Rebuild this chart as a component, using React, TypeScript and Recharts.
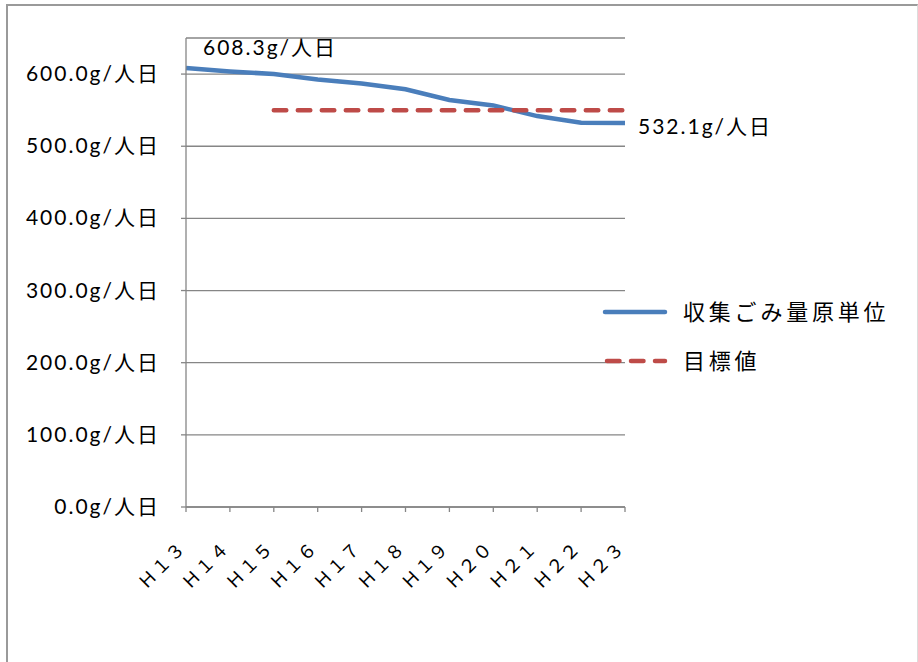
import { LineChart, Line, XAxis, YAxis, CartesianGrid, Legend, LabelList } from 'recharts'

const categories = ['Ｈ１３', 'Ｈ１４', 'Ｈ１５', 'Ｈ１６', 'Ｈ１７', 'Ｈ１８', 'Ｈ１９', 'Ｈ２０', 'Ｈ２１', 'Ｈ２２', 'Ｈ２３']
const perCapita = [608.3, 603.7, 600.0, 592.6, 587.0, 579.0, 564.0, 556.6, 541.8, 532.5, 532.1]
const target = [null, null, 550, 550, 550, 550, 550, 550, 550, 550, 550]
const yTicks = [0, 100, 200, 300, 400, 500, 600]

const SERIES_A = '収集ごみ量原単位'
const SERIES_B = '目標値'

const BLUE = '#4A7EBB'
const RED = '#BE4B48'
const GRID = '#868686'
const FONT = "Lato, 'Noto Sans CJK JP', sans-serif"

const data = categories.map((c, i) => ({ name: c, a: perCapita[i], b: target[i] }))

const fmt = (v: number) => `${v.toFixed(1)}g/人日`

function XTick({ x, y, payload }: any) {
  return (
    <text
      x={x + 1}
      y={y + 35}
      textAnchor="end"
      transform={`rotate(-45 ${x + 1} ${y + 35})`}
      fontSize={18}
      letterSpacing={1.5}
      fontFamily="'Noto Sans CJK JP', sans-serif"
      fill="#000"
    >
      {payload.value}
    </text>
  )
}

function YTick({ x, y, payload }: any) {
  return (
    <text x={x - 19} y={y} dy={7} textAnchor="end" fontSize={21} letterSpacing={2} fontFamily={FONT} fill="#000">
      {fmt(payload.value)}
    </text>
  )
}

function EndLabel({ x, y, index, value }: any) {
  if (index === 0) {
    return (
      <text x={x + 84} y={y - 13} textAnchor="middle" fontSize={21} letterSpacing={2} fontFamily={FONT} fill="#000">
        {fmt(value)}
      </text>
    )
  }
  if (index === perCapita.length - 1) {
    return (
      <text x={x + 13} y={y + 11} textAnchor="start" fontSize={21} letterSpacing={2} fontFamily={FONT} fill="#000">
        {fmt(value)}
      </text>
    )
  }
  return null
}

function LegendBox() {
  return (
    <svg width={320} height={90} style={{ overflow: 'visible' }}>
      <line x1={2} y1={17} x2={62} y2={17} stroke={BLUE} strokeWidth={4.5} strokeLinecap="round" />
      <text x={80} y={17} dy={8} fontSize={22} letterSpacing={3.8} fontFamily={FONT} fill="#000">{SERIES_A}</text>
      <line x1={4} y1={66} x2={62} y2={66} stroke={RED} strokeWidth={4.5} strokeLinecap="round" strokeDasharray="12.5 11.5" />
      <text x={80} y={66} dy={8} fontSize={22} letterSpacing={3.8} fontFamily={FONT} fill="#000">{SERIES_B}</text>
    </svg>
  )
}

export default function App() {
  return (
    <div style={{ position: 'absolute', left: 0, top: 0, width: 918, height: 662, background: '#fff', overflow: 'hidden' }}>
      <div
        style={{
          position: 'absolute',
          left: 6,
          top: 4,
          width: 909,
          height: 700,
          borderTop: '2px solid #9a9a9a',
          borderLeft: '2px solid #9a9a9a',
          borderRight: '1px solid #dcdcdc',
        }}
      />
      <div style={{ position: 'absolute', left: 0, top: 0 }}>
        <LineChart width={918} height={662} data={data} margin={{ top: 38, right: 293, bottom: 95, left: 16 }}>
          <CartesianGrid vertical={false} stroke={GRID} strokeWidth={1.3} />
          <XAxis
            dataKey="name"
            stroke={GRID}
            strokeWidth={1.3}
            tickSize={5}
            tickLine={{ stroke: GRID }}
            height={60}
            interval={0}
            tick={<XTick />}
          />
          <YAxis
            domain={[0, 650]}
            ticks={yTicks}
            width={170}
            stroke={GRID}
            strokeWidth={1.3}
            tickSize={5}
            tick={<YTick />}
          />
          <Legend
            content={<LegendBox />}
            layout="vertical"
            align="right"
            verticalAlign="middle"
            wrapperStyle={{ position: 'absolute', left: 603, top: 295, width: 0, height: 0, overflow: 'visible' }}
          />
          <Line
            dataKey="a"
            name={SERIES_A}
            stroke={BLUE}
            strokeWidth={4.5}
            dot={false}
            isAnimationActive={false}
          >
            <LabelList dataKey="a" content={<EndLabel />} />
          </Line>
          <Line
            dataKey="b"
            name={SERIES_B}
            stroke={RED}
            strokeWidth={4.5}
            strokeDasharray="12.5 11.5"
            strokeLinecap="round"
            dot={false}
            isAnimationActive={false}
          />
        </LineChart>
      </div>
    </div>
  )
}
